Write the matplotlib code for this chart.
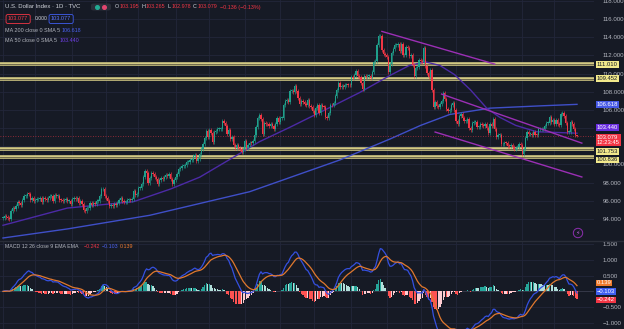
import numpy as np
import pandas as pd
import matplotlib
matplotlib.use("Agg")
import matplotlib.pyplot as plt
from matplotlib.lines import Line2D
from matplotlib.patches import FancyBboxPatch

# TVC:DXY daily closes, 3 Nov 2021 -> 21 Mar 2023
closes = [
    # Nov 2021
    94.10, 94.35, 94.20, 94.05, 93.95, 94.85, 95.15, 95.10, 95.40, 95.90,
    95.80, 95.55, 96.05, 96.50, 96.50, 96.80, 96.75, 96.05, 96.30, 95.95,
    # Dec 2021
    96.05, 96.15, 96.15, 96.30, 95.90, 96.35, 96.20, 96.10, 96.30, 96.55,
    96.55, 95.95, 96.60, 96.50, 96.50, 96.10, 96.05, 96.00, 96.10, 96.20,
    95.95, 95.95, 95.65,
    # Jan 2022
    96.20, 96.30, 96.20, 96.35, 95.75, 95.95, 95.60, 94.95, 94.90, 95.15,
    95.25, 95.75, 95.50, 95.75, 95.65, 95.95, 95.95, 96.50, 97.25, 97.30,
    96.55,
    # Feb 2022
    96.35, 96.00, 95.40, 95.50, 95.45, 95.60, 95.50, 95.80, 96.05, 96.30,
    96.00, 95.85, 95.85, 96.05, 96.10, 96.05, 96.20, 97.05, 96.60, 96.70,
    # Mar 2022
    97.40, 97.40, 97.80, 98.60, 99.30, 99.05, 97.95, 98.50, 99.10, 99.00,
    98.60, 98.40, 97.90, 98.25, 98.50, 98.45, 98.60, 98.80, 98.75, 98.95,
    98.40, 97.85, 98.30,
    # Apr 2022
    98.60, 99.00, 99.50, 99.60, 99.80, 99.80, 99.90, 100.30, 100.30, 100.50,
    100.50, 100.90, 101.00, 100.40, 100.60, 101.15, 101.75, 102.30, 102.95, 103.65,
    103.00,
    # May 2022
    103.75, 103.45, 102.50, 103.60, 103.65, 103.90, 103.90, 103.90, 104.80, 104.55,
    104.20, 103.35, 103.80, 102.85, 103.00, 102.10, 101.85, 102.10, 101.80, 101.65,
    101.40, 101.75,
    # Jun 2022
    102.55, 101.80, 102.15, 102.40, 102.35, 102.55, 103.25, 104.15, 105.15, 105.50,
    105.00, 103.40, 104.60, 104.45, 104.40, 104.20, 104.40, 104.20, 103.90, 104.45,
    105.10, 104.70,
    # Jul 2022
    105.10, 105.15, 106.50, 107.00, 107.05, 106.90, 108.05, 108.10, 108.00, 108.60,
    108.05, 107.30, 106.70, 107.00, 106.90, 106.70, 106.50, 107.15, 106.40, 106.30,
    105.85,
    # Aug 2022
    105.40, 106.20, 106.50, 105.70, 106.60, 106.35, 106.30, 105.20, 105.10, 105.65,
    106.55, 106.50, 106.75, 107.55, 108.15, 108.95, 108.55, 108.60, 108.55, 108.80,
    108.80, 108.75, 108.70,
    # Sep 2022
    109.65, 109.55, 109.85, 110.25, 109.75, 109.65, 109.00, 108.30, 109.75, 109.65,
    109.70, 109.75, 109.55, 110.20, 111.25, 111.35, 113.15, 114.10, 114.15, 112.60,
    112.15, 112.10,
    # Oct 2022
    111.80, 110.20, 111.05, 112.25, 112.75, 113.15, 113.20, 113.30, 112.45, 113.30,
    112.00, 112.10, 112.95, 112.85, 111.95, 112.00, 110.95, 109.70, 110.60, 110.75,
    111.50,
    # Nov 2022
    111.40, 111.30, 112.85, 110.85, 110.10, 109.60, 110.45, 108.20, 106.30, 106.90,
    106.40, 106.30, 106.70, 106.95, 107.85, 107.20, 106.10, 105.90, 106.00, 106.60,
    106.75, 105.95,
    # Dec 2022
    104.75, 104.50, 105.30, 105.55, 105.15, 104.80, 104.80, 105.00, 104.00, 103.80,
    104.60, 104.70, 104.70, 104.10, 104.15, 104.40, 104.35, 104.25, 104.45, 104.05,
    103.50,
    # Jan 2023
    104.50, 104.25, 105.05, 103.90, 103.00, 103.20, 103.20, 102.20, 102.20, 102.40,
    102.35, 102.05, 102.00, 102.15, 101.95, 101.70, 101.85, 101.90, 102.25, 102.10,
    # Feb 2023
    101.20, 101.75, 102.90, 103.60, 103.40, 103.40, 103.25, 103.60, 103.25, 103.20,
    103.85, 103.85, 103.85, 103.85, 104.20, 104.55, 104.60, 105.20, 104.65, 104.90,
    # Mar 2023
    104.50, 104.95, 104.50, 104.30, 105.60, 105.65, 105.30, 104.60, 103.60, 103.60,
    104.65, 104.40, 103.85, 103.215, 103.079,
]
month_starts = [0, 20, 43, 64, 84, 107, 128, 150, 172, 193, 216, 238, 259, 281, 302, 322, 342]

# today's bar
last_open, last_high, last_low, last_close = 103.195, 103.265, 102.978, 103.079
last_change, last_change_pct = -0.136, -0.13
countdown = "12:23:45"

# moving averages (bar index, value)
ma200_idx = [0, 40, 91, 153, 209, 240, 259, 277, 302, 333, 356]
ma200_val = [91.9, 92.9, 94.4, 97.0, 100.5, 102.8, 104.3, 105.5, 106.2, 106.45, 106.618]
ma50_idx = [0, 40, 81, 104, 122, 143, 159, 178, 203, 221, 240, 252, 262, 271, 280,
            290, 300, 308, 318, 331, 356]
ma50_val = [93.3, 95.2, 95.9, 97.3, 98.6, 100.8, 102.5, 104.1, 106.3, 107.9, 109.8,
            110.9, 111.3, 110.9, 109.9, 108.2, 106.2, 105.2, 104.3, 103.6, 103.44]

# horizontal support / resistance levels
levels = [111.010, 109.452, 101.753, 100.836]

# drawn trend lines: (bar0, bar1), (price0, price1)
trend_lines = [
    ((235, 305), (114.65, 111.05)),
    ((272, 359), (107.75, 102.35)),
    ((268, 359), (103.57, 98.62)),
]

# MACD readout in the pane legend
macd_hist_last, macd_last, signal_last = -0.242, -0.103, 0.139

BG = "#161a25"
GRID = "#22263a"
TXT = "#b2b5be"
UP, DOWN = "#1fa08c", "#f23645"
MA200_C, MA50_C = "#3f4fc8", "#4c2aa6"
TREND_C = "#9b2fb5"
LEVEL_C = "#d3ca84"
WICK = 0.22          # wick reach beyond the body, price units
plt.rcParams["font.family"] = ["Liberation Sans", "DejaVu Sans"]

W, H = 624, 329
def fbox(x0, y0, x1, y1):
    return [x0 / W, 1 - y1 / H, (x1 - x0) / W, (y1 - y0) / H]
def fpt(x, y):
    return x / W, 1 - y / H
def neg(txt):
    return txt.replace("-", "\u2212")

closes = np.array(closes)
n = len(closes)
idx = np.arange(n)
opens = np.r_[closes[0], closes[:-1]]
opens[-1] = last_open

fig = plt.figure(figsize=(6.24, 3.29), dpi=100, facecolor=BG)
ax = fig.add_axes(fbox(0, 0, 594, 240))
axm = fig.add_axes(fbox(0, 241, 594, 329), sharex=ax)

step = 574 / (n - 1)
for a in (ax, axm):
    a.set_facecolor(BG)
    for s in a.spines.values():
        s.set_visible(False)
    a.set_xticks(month_starts)
    a.tick_params(axis="x", length=0, labelbottom=False)
    a.yaxis.tick_right()
    a.tick_params(axis="y", length=0, pad=6, labelsize=4.4, labelcolor=TXT)
    a.grid(True, color=GRID, lw=0.6)
    a.set_axisbelow(True)
ax.set_xlim(-3 / step, 591 / step)

# ---- price pane ----
# scale labels hidden where the value tags sit on top of them
hidden_prices = (104, 102)
ax.set_ylim(91.68, 118.11)
ax.set_yticks(np.arange(94, 119, 2))
ax.yaxis.set_major_formatter(
    lambda v, p: "" if round(v) in hidden_prices else f"{v:.3f}")

for lvl in levels:
    ax.axhline(lvl, color=LEVEL_C, lw=2.6, zorder=2)
    ax.axhline(lvl, color="#6f6a4c", lw=0.7, zorder=2)

ax.plot(ma200_idx, ma200_val, color=MA200_C, lw=1.0, zorder=3)
ax.plot(ma50_idx, ma50_val, color=MA50_C, lw=1.0, zorder=3)

up = closes >= opens
ccol = np.where(up, UP, DOWN)
lo = np.minimum(opens, closes)
hi = np.maximum(opens, closes)
wick_lo = lo - WICK
wick_hi = hi + WICK
wick_lo[-1], wick_hi[-1] = last_low, last_high
ax.vlines(idx, wick_lo, wick_hi, colors=ccol, lw=0.45, zorder=4)
ax.bar(idx, np.maximum(hi - lo, 0.1), bottom=lo, width=0.8, color=ccol,
       linewidth=0, zorder=4)

for (b0, b1), (p0, p1) in trend_lines:
    ax.plot([b0, b1], [p0, p1], color=TREND_C, lw=1.0, zorder=5)

ax.axhline(last_close, color=DOWN, lw=0.6, ls=(0, (1, 2)), alpha=0.7, zorder=3)

def tag(a, y, text, fc, tc):
    a.annotate(text, xy=(597 / W, y), xycoords=("figure fraction", "data"),
               fontsize=4.2, color=tc, va="center", ha="left", annotation_clip=False,
               linespacing=1.0,
               bbox=dict(boxstyle="square,pad=0.12", fc=fc, ec="none"), zorder=10)

# tags sit on their value, nudged apart where they would collide
tag(ax, levels[0], f"{levels[0]:.3f}", "#f2e98c", BG)
tag(ax, levels[1], f"{levels[1]:.3f}", "#f2e98c", BG)
tag(ax, ma200_val[-1], f"{ma200_val[-1]:.3f}", "#4659e6", "white")
tag(ax, ma50_val[-1] + 0.62, f"{ma50_val[-1]:.3f}", "#6a2fe0", "white")
tag(ax, last_close - 0.38, f"{last_close:.3f}\n{countdown}", DOWN, "white")
tag(ax, levels[2] - 0.33, f"{levels[2]:.3f}", "#f2e98c", BG)
tag(ax, levels[3] - 0.32, f"{levels[3]:.3f}", "#f2e98c", BG)

# ---- MACD pane ----
s = pd.Series(closes)
macd = s.ewm(span=12, adjust=False).mean() - s.ewm(span=26, adjust=False).mean()
signal = macd.ewm(span=9, adjust=False).mean()
hist = (macd - signal).to_numpy()
prev = np.r_[0.0, hist[:-1]]
hcol = np.where(hist >= 0, np.where(hist > prev, "#26a69a", "#b2dfdb"),
                np.where(hist > prev, "#ffcdd2", "#ff5252"))

axm.set_ylim(-1.19, 1.595)
axm.set_yticks([-1.0, -0.5, 0.0, 0.5, 1.0, 1.5])
axm.yaxis.set_major_formatter(lambda v, p: "" if abs(v) < 1e-9 else neg(f"{v:.3f}"))
axm.axhline(0, color="#5d606b", lw=0.4, alpha=0.6)
axm.bar(idx, hist, width=0.8, color=hcol, linewidth=0, zorder=3)
axm.plot(idx, macd, color="#3550e0", lw=0.9, zorder=4)
axm.plot(idx, signal, color="#e0782e", lw=0.9, zorder=4)

tag(axm, 0.27, f"{signal_last:.3f}", "#f07b2c", "white")
tag(axm, 0.0, neg(f"{macd_last:.3f}"), "#3f5ef0", "white")
tag(axm, -0.27, neg(f"{macd_hist_last:.3f}"), DOWN, "white")

# pane separator
fig.add_artist(Line2D([0, 1], [1 - 240.5 / H] * 2, transform=fig.transFigure,
                      color="#2a2e39", lw=1.0))

# events marker
fig.text(*fpt(578, 233), "\u26a1", fontsize=4.5, color="#b05cd0", ha="center",
         va="center", family=["DejaVu Sans"],
         bbox=dict(boxstyle="circle,pad=0.35", fc=BG, ec="#8e2fb0", lw=0.7))

# ---- legend text ----
fig.text(*fpt(5, 7), "U.S. Dollar Index \u00b7 1D \u00b7 TVC", fontsize=4.3,
         color="#d1d4dc", va="center")
fig.add_artist(FancyBboxPatch(fpt(91, 10.5), 20 / W, 7 / H, transform=fig.transFigure,
                              boxstyle="round,pad=0,rounding_size=0.005",
                              fc="#2a2e39", ec="none"))
fig.add_artist(Line2D([fpt(97, 7)[0]], [fpt(97, 7)[1]], transform=fig.transFigure,
                      marker="o", ms=2.6, color="#22ab94", lw=0))
fig.add_artist(Line2D([fpt(104.5, 7)[0]], [fpt(104.5, 7)[1]], transform=fig.transFigure,
                      marker="o", ms=2.6, color="#e2456f", lw=0))

ohlc = [("O", last_open, 115), ("H", last_high, 141), ("L", last_low, 167), ("C", last_close, 193)]
for lab, val, x in ohlc:
    fig.text(*fpt(x, 7), lab, fontsize=3.9, color="#d1d4dc", va="center")
    fig.text(*fpt(x + 4.5, 7), f"{val:.3f}", fontsize=3.9, color=DOWN, va="center")
fig.text(*fpt(220, 7), neg(f"{last_change:.3f} ({last_change_pct:.2f}%)"),
         fontsize=3.9, color=DOWN, va="center")

fig.text(*fpt(8, 19), "103.077", fontsize=4.0, color=DOWN, va="center",
         bbox=dict(boxstyle="round,pad=0.35,rounding_size=0.3", fc=BG, ec=DOWN, lw=0.6))
fig.text(*fpt(35, 19), "0.000", fontsize=3.6, color="#d1d4dc", va="center")
fig.text(*fpt(51, 19), "103.077", fontsize=4.0, color="#5b74ff", va="center",
         bbox=dict(boxstyle="round,pad=0.35,rounding_size=0.3", fc=BG, ec="#3f5ef0", lw=0.6))

fig.text(*fpt(5, 30), "MA 200 close 0 SMA 5", fontsize=3.9, color=TXT, va="center")
fig.text(*fpt(62, 30), f"{ma200_val[-1]:.3f}", fontsize=3.9, color="#4a62f0", va="center")
fig.text(*fpt(5, 41), "MA 50 close 0 SMA 5", fontsize=3.9, color=TXT, va="center")
fig.text(*fpt(60, 41), f"{ma50_val[-1]:.3f}", fontsize=3.9, color="#7040e8", va="center")

fig.text(*fpt(5, 247), "MACD 12 26 close 9 EMA EMA", fontsize=3.8, color=TXT, va="center")
fig.text(*fpt(84, 247), neg(f"{macd_hist_last:.3f}"), fontsize=3.8, color=DOWN, va="center")
fig.text(*fpt(102, 247), neg(f"{macd_last:.3f}"), fontsize=3.8, color="#4a62f0", va="center")
fig.text(*fpt(120, 247), f"{signal_last:.3f}", fontsize=3.8, color="#f07b2c", va="center")

fig.savefig("out.png", dpi=100, facecolor=BG)
